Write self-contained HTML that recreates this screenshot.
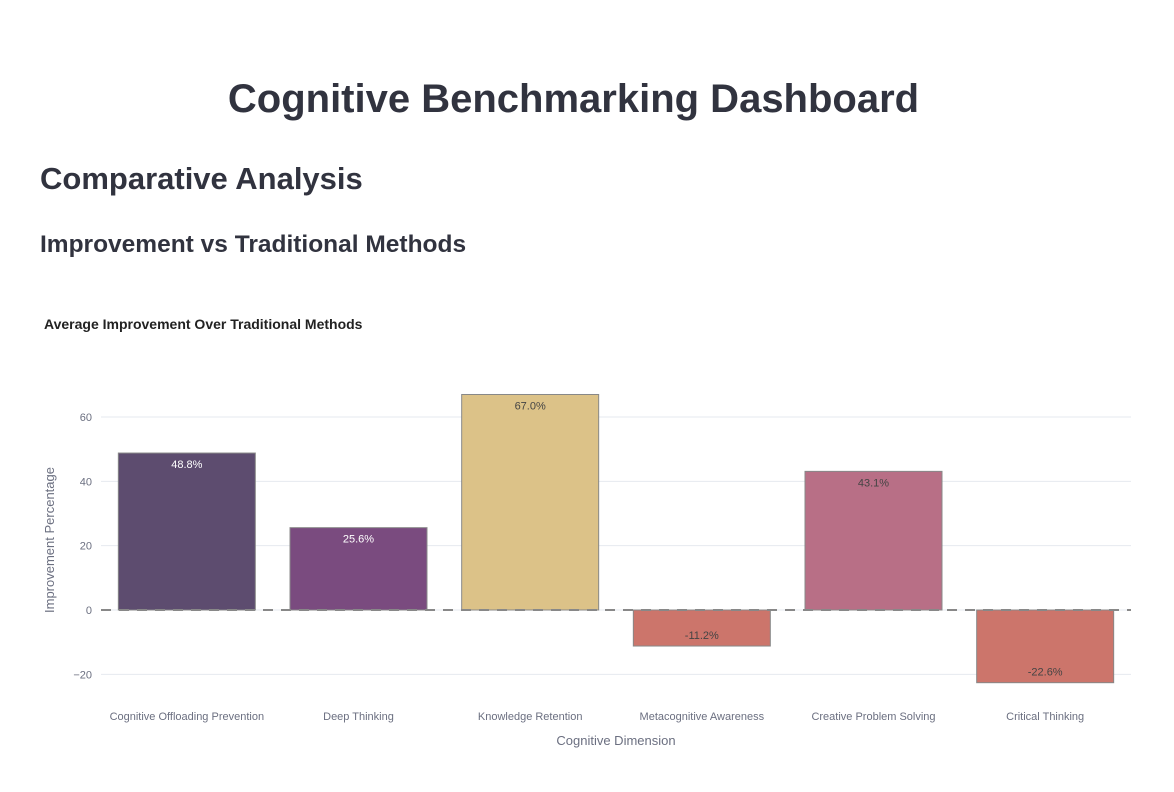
<!DOCTYPE html>
<html><head><meta charset="utf-8"><style>
body{margin:0;background:#fff;width:1174px;height:792px;overflow:hidden;font-family:"Liberation Sans",sans-serif;color:#31333f}
h1{position:absolute;left:0;width:1147px;top:77px;margin:0;text-align:center;font-size:40px;font-weight:bold;}
h2{position:absolute;left:40px;top:161px;margin:0;font-size:31px;font-weight:bold}
h3{position:absolute;left:40px;top:231px;margin:0;font-size:24.5px;font-weight:bold}
svg{position:absolute;left:0;top:0}
</style></head><body>
<h1>Cognitive Benchmarking Dashboard</h1>
<h2>Comparative Analysis</h2>
<h3>Improvement vs Traditional Methods</h3>
<svg id="c" width="1174" height="792"></svg>
<script>
const categories=["Cognitive Offloading Prevention","Deep Thinking","Knowledge Retention","Metacognitive Awareness","Creative Problem Solving","Critical Thinking"];
const values=[48.8,25.6,67.0,-11.2,43.1,-22.6];
const colors=["#5d4c6f","#7a4b7f","#dcc288","#cc756b","#b86f86","#cc756b"];
const labelColors=["#fff","#fff","#444","#444","#444","#444"];
const ticks=[-20,0,20,40,60];
const X0=101,X1=1131,Y0=610,PX=64.33/20;
const y=v=>Y0-v*PX;
const bw=(X1-X0)/categories.length;
const xc=i=>X0+bw*(i+0.5);
const s=document.getElementById('c');const NS="http://www.w3.org/2000/svg";
function mk(t,a,txt){const e=document.createElementNS(NS,t);for(const k in a)e.setAttribute(k,a[k]);if(txt!=null)e.textContent=txt;s.appendChild(e);return e;}
let t=mk('text',{x:44,y:329,'font-size':14,'font-weight':'bold',fill:'#222','font-family':'Liberation Sans'},'Average Improvement Over Traditional Methods');


ticks.forEach(v=>{
 let g=mk('line',{x1:X0,x2:X1,y1:y(v),y2:y(v),stroke:'#e6e9ef','stroke-width':1});
 
 
 let l=mk('text',{x:92,y:y(v)+4,'text-anchor':'end','font-size':11,fill:'#6b6f80'},v<0?'\u2212'+(-v):v);
 
 
});
values.forEach((v,i)=>{
 const w=137,x=xc(i)-w/2,top=Math.min(y(v),Y0),h=Math.abs(y(v)-Y0);
 let r=mk('rect',{x:x,y:top,width:w,height:h,fill:colors[i],stroke:'#888','stroke-width':1});
 
 
 let ly=v>=0?y(v)+15:y(v)-7;
 let l=mk('text',{x:xc(i),y:ly,'text-anchor':'middle','font-size':11,fill:labelColors[i]},v.toFixed(1)+'%');
 
 
 let c=mk('text',{x:xc(i),y:720,'text-anchor':'middle','font-size':11,fill:'#6b6f80'},categories[i]);
 
 
});
let z=mk('line',{x1:X0,x2:X1,y1:Y0,y2:Y0,stroke:'#888','stroke-width':2,'stroke-dasharray':'10,8'});


let xt=mk('text',{x:616,y:745,'text-anchor':'middle','font-size':13,fill:'#6b6f80'},'Cognitive Dimension');


let yt=mk('text',{x:0,y:0,'text-anchor':'middle','font-size':13,fill:'#6b6f80',transform:'translate(54,540) rotate(-90)'},'Improvement Percentage');


</script>
</body></html>
